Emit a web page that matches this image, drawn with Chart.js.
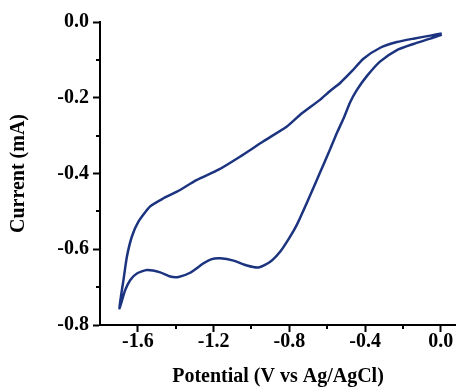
<!DOCTYPE html>
<html>
<head>
<meta charset="utf-8">
<script src="https://cdn.jsdelivr.net/npm/chart.js@4/dist/chart.umd.min.js"></script>
<style>
  html, body { margin: 0; padding: 0; background: #fff; }
  canvas { display: block; }
</style>
</head>
<body>
<canvas id="cv" width="456" height="390"></canvas>
<script>
// cyclic voltammogram, one full cycle starting and ending near 0 V
const potential = [0.005, -0.056, -0.145, -0.232, -0.320, -0.391, -0.444, -0.479, -0.514, -0.549,
  -0.584, -0.620, -0.655, -0.708, -0.760, -0.800, -0.848, -0.901, -0.963, -1.024,
  -1.095, -1.165, -1.210, -1.253, -1.324, -1.385, -1.429, -1.482, -1.552, -1.605,
  -1.640, -1.667, -1.697,
  -1.688, -1.676, -1.658, -1.632, -1.597, -1.535, -1.470, -1.394, -1.288, -1.174,
  -1.059, -0.937, -0.813, -0.743, -0.637, -0.585, -0.532, -0.470, -0.409, -0.320,
  -0.232, -0.145, -0.056, 0.005];
const current = [-0.033, -0.044, -0.058, -0.074, -0.104, -0.143, -0.180, -0.212, -0.255, -0.293,
  -0.335, -0.377, -0.417, -0.478, -0.535, -0.570, -0.606, -0.633, -0.648, -0.643,
  -0.630, -0.624, -0.626, -0.637, -0.662, -0.673, -0.672, -0.661, -0.655, -0.664,
  -0.681, -0.708, -0.756,
  -0.720, -0.681, -0.620, -0.567, -0.527, -0.487, -0.467, -0.448, -0.417, -0.390,
  -0.355, -0.315, -0.276, -0.245, -0.205, -0.182, -0.161, -0.130, -0.097, -0.068,
  -0.053, -0.044, -0.036, -0.030];

const xMinorTicks = [-1.4, -1.0, -0.6, -0.2];
const yMinorTicks = [-0.1, -0.3, -0.5, -0.7];

const lineColor = '#1c3480';
const font = { family: '"Liberation Serif", "Times New Roman", serif', size: 20, weight: 'bold', lineHeight: 1 };

// short outward minor ticks, Chart.js only has one tick length per axis
const minorTicks = {
  id: 'minorTicks',
  afterDraw(chart) {
    const { ctx, scales: { x, y } } = chart;
    ctx.save();
    ctx.strokeStyle = '#000';
    ctx.lineWidth = 2;
    ctx.beginPath();
    xMinorTicks.forEach(v => {
      const px = Math.round(x.getPixelForValue(v));
      ctx.moveTo(px, x.top);
      ctx.lineTo(px, x.top + 4);
    });
    yMinorTicks.forEach(v => {
      const py = Math.round(y.getPixelForValue(v));
      ctx.moveTo(y.right, py);
      ctx.lineTo(y.right - 4, py);
    });
    ctx.stroke();
    ctx.restore();
  }
};

new Chart(document.getElementById('cv'), {
  type: 'scatter',
  data: {
    datasets: [{
      data: potential.map((v, i) => ({ x: v, y: current[i] })),
      showLine: true,
      borderColor: lineColor,
      borderWidth: 2.5,
      pointRadius: 0,
      tension: 0.2,
    }]
  },
  options: {
    responsive: false,
    animation: false,
    layout: { padding: { top: 22, right: 0, bottom: 0, left: 0 } },
    plugins: {
      legend: { display: false },
      tooltip: { enabled: false }
    },
    scales: {
      x: {
        type: 'linear',
        min: -1.8,
        max: 0.08,
        afterFit(scale) { scale.height = 65; },
        grid: { drawOnChartArea: false, tickLength: 7, tickColor: '#000', tickWidth: 2 },
        border: { display: true, color: '#000', width: 2 },
        ticks: {
          stepSize: 0.4,
          includeBounds: false,
          padding: 0,
          color: '#000',
          font: font,
          maxRotation: 0,
          callback: v => v.toFixed(1)
        },
        title: {
          display: true,
          text: 'Potential (V vs Ag/AgCl)',
          color: '#000',
          font: font,
          padding: { top: 0, bottom: 3 }
        }
      },
      y: {
        type: 'linear',
        min: -0.8,
        max: 0,
        afterFit(scale) { scale.width = 100; },
        grid: { drawOnChartArea: false, tickLength: 7, tickColor: '#000', tickWidth: 2 },
        border: { display: true, color: '#000', width: 2 },
        ticks: {
          stepSize: 0.2,
          padding: 4,
          color: '#000',
          font: font,
          callback: v => v.toFixed(1)
        },
        title: {
          display: true,
          text: 'Current (mA)',
          color: '#000',
          font: font,
          padding: { top: 9, bottom: 0 }
        }
      }
    }
  },
  plugins: [minorTicks]
});
</script>
</body>
</html>
